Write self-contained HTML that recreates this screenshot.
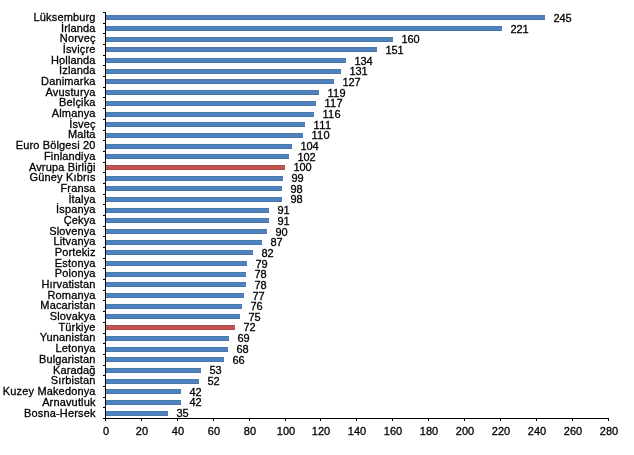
<!DOCTYPE html><html><head><meta charset="utf-8"><style>
html,body{margin:0;padding:0;background:#fff;}
body{width:634px;height:455px;position:relative;overflow:hidden;font-family:"Liberation Sans",sans-serif;font-size:11px;color:#000;-webkit-text-stroke:0.3px #000;}
.l{position:absolute;right:538.4px;white-space:nowrap;line-height:12px;height:12px;letter-spacing:0.15px;}
.v{position:absolute;white-space:nowrap;line-height:12px;height:12px;letter-spacing:-0.1px;}
.b{position:absolute;height:5px;background:linear-gradient(#4c79ae 0,#4c79ae 1px,#4f81bd 1px,#4f81bd 4px,#4b76a9 4px);left:106px;}
.r{background:linear-gradient(#ad4b48 0,#ad4b48 1px,#c0544f 1px,#c0544f 4px,#b04a47 4px);}
.t{position:absolute;background:#000;}
.x{position:absolute;width:40px;text-align:center;line-height:12px;top:425px;letter-spacing:-0.1px;}
#w{position:absolute;left:0;top:0;width:634px;height:455px;will-change:transform;}
</style></head><body><div id="w">
<div class="t" style="left:105px;top:12px;width:1px;height:407px"></div>
<div class="t" style="left:105px;top:418px;width:504px;height:1px"></div>
<div class="t" style="left:103px;top:12px;width:3px;height:1px"></div>
<div class="t" style="left:103px;top:23px;width:3px;height:1px"></div>
<div class="t" style="left:103px;top:33px;width:3px;height:1px"></div>
<div class="t" style="left:103px;top:44px;width:3px;height:1px"></div>
<div class="t" style="left:103px;top:55px;width:3px;height:1px"></div>
<div class="t" style="left:103px;top:65px;width:3px;height:1px"></div>
<div class="t" style="left:103px;top:76px;width:3px;height:1px"></div>
<div class="t" style="left:103px;top:87px;width:3px;height:1px"></div>
<div class="t" style="left:103px;top:97px;width:3px;height:1px"></div>
<div class="t" style="left:103px;top:108px;width:3px;height:1px"></div>
<div class="t" style="left:103px;top:119px;width:3px;height:1px"></div>
<div class="t" style="left:103px;top:130px;width:3px;height:1px"></div>
<div class="t" style="left:103px;top:140px;width:3px;height:1px"></div>
<div class="t" style="left:103px;top:151px;width:3px;height:1px"></div>
<div class="t" style="left:103px;top:162px;width:3px;height:1px"></div>
<div class="t" style="left:103px;top:172px;width:3px;height:1px"></div>
<div class="t" style="left:103px;top:183px;width:3px;height:1px"></div>
<div class="t" style="left:103px;top:194px;width:3px;height:1px"></div>
<div class="t" style="left:103px;top:204px;width:3px;height:1px"></div>
<div class="t" style="left:103px;top:215px;width:3px;height:1px"></div>
<div class="t" style="left:103px;top:226px;width:3px;height:1px"></div>
<div class="t" style="left:103px;top:236px;width:3px;height:1px"></div>
<div class="t" style="left:103px;top:247px;width:3px;height:1px"></div>
<div class="t" style="left:103px;top:258px;width:3px;height:1px"></div>
<div class="t" style="left:103px;top:268px;width:3px;height:1px"></div>
<div class="t" style="left:103px;top:279px;width:3px;height:1px"></div>
<div class="t" style="left:103px;top:290px;width:3px;height:1px"></div>
<div class="t" style="left:103px;top:300px;width:3px;height:1px"></div>
<div class="t" style="left:103px;top:311px;width:3px;height:1px"></div>
<div class="t" style="left:103px;top:322px;width:3px;height:1px"></div>
<div class="t" style="left:103px;top:333px;width:3px;height:1px"></div>
<div class="t" style="left:103px;top:343px;width:3px;height:1px"></div>
<div class="t" style="left:103px;top:354px;width:3px;height:1px"></div>
<div class="t" style="left:103px;top:365px;width:3px;height:1px"></div>
<div class="t" style="left:103px;top:375px;width:3px;height:1px"></div>
<div class="t" style="left:103px;top:386px;width:3px;height:1px"></div>
<div class="t" style="left:103px;top:397px;width:3px;height:1px"></div>
<div class="t" style="left:103px;top:407px;width:3px;height:1px"></div>
<div class="t" style="left:103px;top:418px;width:3px;height:1px"></div>
<div class="t" style="left:105px;top:418px;width:1px;height:3px"></div>
<div class="x" style="left:85.9px">0</div>
<div class="t" style="left:141px;top:418px;width:1px;height:3px"></div>
<div class="x" style="left:121.9px">20</div>
<div class="t" style="left:177px;top:418px;width:1px;height:3px"></div>
<div class="x" style="left:157.9px">40</div>
<div class="t" style="left:213px;top:418px;width:1px;height:3px"></div>
<div class="x" style="left:193.9px">60</div>
<div class="t" style="left:249px;top:418px;width:1px;height:3px"></div>
<div class="x" style="left:229.9px">80</div>
<div class="t" style="left:285px;top:418px;width:1px;height:3px"></div>
<div class="x" style="left:265.9px">100</div>
<div class="t" style="left:320px;top:418px;width:1px;height:3px"></div>
<div class="x" style="left:300.9px">120</div>
<div class="t" style="left:356px;top:418px;width:1px;height:3px"></div>
<div class="x" style="left:336.9px">140</div>
<div class="t" style="left:392px;top:418px;width:1px;height:3px"></div>
<div class="x" style="left:372.9px">160</div>
<div class="t" style="left:428px;top:418px;width:1px;height:3px"></div>
<div class="x" style="left:408.9px">180</div>
<div class="t" style="left:464px;top:418px;width:1px;height:3px"></div>
<div class="x" style="left:444.9px">200</div>
<div class="t" style="left:500px;top:418px;width:1px;height:3px"></div>
<div class="x" style="left:480.9px">220</div>
<div class="t" style="left:536px;top:418px;width:1px;height:3px"></div>
<div class="x" style="left:516.9px">240</div>
<div class="t" style="left:572px;top:418px;width:1px;height:3px"></div>
<div class="x" style="left:552.9px">260</div>
<div class="t" style="left:608px;top:418px;width:1px;height:3px"></div>
<div class="x" style="left:588.9px">280</div>
<div class="b" style="top:15px;width:439px"></div>
<div class="l" style="top:11px">Lüksemburg</div>
<div class="v" style="top:12px;left:553.4px">245</div>
<div class="b" style="top:26px;width:396px"></div>
<div class="l" style="top:22px">İrlanda</div>
<div class="v" style="top:23px;left:510.4px">221</div>
<div class="b" style="top:37px;width:287px"></div>
<div class="l" style="top:32px">Norveç</div>
<div class="v" style="top:33px;left:401.4px">160</div>
<div class="b" style="top:47px;width:271px"></div>
<div class="l" style="top:43px">İsviçre</div>
<div class="v" style="top:44px;left:385.4px">151</div>
<div class="b" style="top:58px;width:240px"></div>
<div class="l" style="top:54px">Hollanda</div>
<div class="v" style="top:55px;left:354.4px">134</div>
<div class="b" style="top:69px;width:235px"></div>
<div class="l" style="top:64px">İzlanda</div>
<div class="v" style="top:65px;left:349.4px">131</div>
<div class="b" style="top:79px;width:228px"></div>
<div class="l" style="top:75px">Danimarka</div>
<div class="v" style="top:76px;left:342.4px">127</div>
<div class="b" style="top:90px;width:213px"></div>
<div class="l" style="top:86px">Avusturya</div>
<div class="v" style="top:87px;left:327.4px;letter-spacing:0.3px">119</div>
<div class="b" style="top:101px;width:210px"></div>
<div class="l" style="top:96px">Belçika</div>
<div class="v" style="top:97px;left:324.4px;letter-spacing:0.3px">117</div>
<div class="b" style="top:112px;width:208px"></div>
<div class="l" style="top:107px">Almanya</div>
<div class="v" style="top:108px;left:322.4px;letter-spacing:0.3px">116</div>
<div class="b" style="top:122px;width:199px"></div>
<div class="l" style="top:118px">İsveç</div>
<div class="v" style="top:119px;left:313.4px;letter-spacing:0.5px">111</div>
<div class="b" style="top:133px;width:197px"></div>
<div class="l" style="top:128px">Malta</div>
<div class="v" style="top:129px;left:311.4px;letter-spacing:0.3px">110</div>
<div class="b" style="top:144px;width:186px"></div>
<div class="l" style="top:139px">Euro Bölgesi 20</div>
<div class="v" style="top:140px;left:300.4px">104</div>
<div class="b" style="top:154px;width:183px"></div>
<div class="l" style="top:150px">Finlandiya</div>
<div class="v" style="top:151px;left:297.4px">102</div>
<div class="b r" style="top:165px;width:179px"></div>
<div class="l" style="top:161px">Avrupa Birliği</div>
<div class="v" style="top:161px;left:293.4px">100</div>
<div class="b" style="top:176px;width:177px"></div>
<div class="l" style="top:171px">Güney Kıbrıs</div>
<div class="v" style="top:172px;left:291.4px">99</div>
<div class="b" style="top:186px;width:176px"></div>
<div class="l" style="top:182px">Fransa</div>
<div class="v" style="top:183px;left:290.4px">98</div>
<div class="b" style="top:197px;width:176px"></div>
<div class="l" style="top:193px">İtalya</div>
<div class="v" style="top:193px;left:290.4px">98</div>
<div class="b" style="top:208px;width:163px"></div>
<div class="l" style="top:203px">İspanya</div>
<div class="v" style="top:204px;left:277.4px">91</div>
<div class="b" style="top:218px;width:163px"></div>
<div class="l" style="top:214px">Çekya</div>
<div class="v" style="top:215px;left:277.4px">91</div>
<div class="b" style="top:229px;width:161px"></div>
<div class="l" style="top:225px">Slovenya</div>
<div class="v" style="top:226px;left:275.4px">90</div>
<div class="b" style="top:240px;width:156px"></div>
<div class="l" style="top:235px">Litvanya</div>
<div class="v" style="top:236px;left:270.4px">87</div>
<div class="b" style="top:250px;width:147px"></div>
<div class="l" style="top:246px">Portekiz</div>
<div class="v" style="top:247px;left:261.4px">82</div>
<div class="b" style="top:261px;width:141px"></div>
<div class="l" style="top:257px">Estonya</div>
<div class="v" style="top:258px;left:255.4px">79</div>
<div class="b" style="top:272px;width:140px"></div>
<div class="l" style="top:267px">Polonya</div>
<div class="v" style="top:268px;left:254.4px">78</div>
<div class="b" style="top:282px;width:140px"></div>
<div class="l" style="top:278px">Hırvatistan</div>
<div class="v" style="top:279px;left:254.4px">78</div>
<div class="b" style="top:293px;width:138px"></div>
<div class="l" style="top:289px">Romanya</div>
<div class="v" style="top:290px;left:252.4px">77</div>
<div class="b" style="top:304px;width:136px"></div>
<div class="l" style="top:299px">Macaristan</div>
<div class="v" style="top:300px;left:250.4px">76</div>
<div class="b" style="top:314px;width:134px"></div>
<div class="l" style="top:310px">Slovakya</div>
<div class="v" style="top:311px;left:248.4px">75</div>
<div class="b r" style="top:325px;width:129px"></div>
<div class="l" style="top:321px">Türkiye</div>
<div class="v" style="top:321px;left:243.4px">72</div>
<div class="b" style="top:336px;width:123px"></div>
<div class="l" style="top:331px">Yunanistan</div>
<div class="v" style="top:332px;left:237.4px">69</div>
<div class="b" style="top:347px;width:122px"></div>
<div class="l" style="top:342px">Letonya</div>
<div class="v" style="top:343px;left:236.4px">68</div>
<div class="b" style="top:357px;width:118px"></div>
<div class="l" style="top:353px">Bulgaristan</div>
<div class="v" style="top:354px;left:232.4px">66</div>
<div class="b" style="top:368px;width:95px"></div>
<div class="l" style="top:364px">Karadağ</div>
<div class="v" style="top:364px;left:209.4px">53</div>
<div class="b" style="top:379px;width:93px"></div>
<div class="l" style="top:374px">Sırbistan</div>
<div class="v" style="top:375px;left:207.4px">52</div>
<div class="b" style="top:389px;width:75px"></div>
<div class="l" style="top:385px">Kuzey Makedonya</div>
<div class="v" style="top:386px;left:189.4px">42</div>
<div class="b" style="top:400px;width:75px"></div>
<div class="l" style="top:396px">Arnavutluk</div>
<div class="v" style="top:396px;left:189.4px">42</div>
<div class="b" style="top:411px;width:62px"></div>
<div class="l" style="top:407px">Bosna-Hersek</div>
<div class="v" style="top:407px;left:176.4px">35</div>
</div></body></html>
